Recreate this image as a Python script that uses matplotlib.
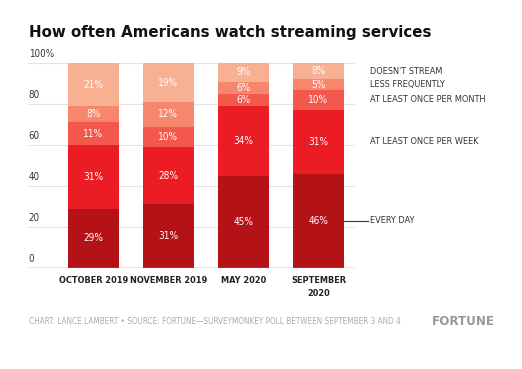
import numpy as np
import matplotlib
matplotlib.use('Agg')
from matplotlib import pyplot as plt

months = ['OCTOBER 2019', 'NOVEMBER 2019', 'MAY 2020', 'SEPTEMBER\n2020']
categories = ['EVERY DAY', 'AT LEAST ONCE PER WEEK', 'AT LEAST ONCE PER MONTH',
              'LESS FREQUENTLY', "DOESN'T STREAM"]
every_day = [29, 31, 45, 46]
per_week = [31, 28, 34, 31]
per_month = [11, 10, 6, 10]
less_often = [8, 12, 6, 5]
no_stream = [21, 19, 9, 8]
colors = ['#b51218', '#ec1c24', '#f4574b', '#f6866c', '#f8b093']

series = [every_day, per_week, per_month, less_often, no_stream]
yticks = [0, 20, 40, 60, 80, 100]

plt.rcParams['font.family'] = 'DejaVu Sans'
plt.rcParams['font.stretch'] = 'condensed'

fig = plt.figure(figsize=(5.22, 3.69), dpi=100)
ax = fig.add_axes([0.0536, 0.274, 0.627, 0.555])

x = np.arange(len(months))
bottom = np.zeros(len(months))
for vals, col in zip(series, colors):
    ax.bar(x, vals, width=0.68, bottom=bottom, color=col, zorder=2)
    for xi, b, v in zip(x, bottom, vals):
        ax.text(xi, b + v / 2, '%d%%' % v, ha='center', va='center',
                color='white', fontsize=7.2, zorder=3)
    bottom += np.array(vals)

ax.set_xlim(-0.87, 3.49)
ax.set_ylim(0, 100)
for s in ax.spines.values():
    s.set_visible(False)
ax.axhline(0, color='#888888', lw=1, zorder=4)
for t in yticks[1:]:
    ax.axhline(t, color='#e3e3e3', lw=0.8, zorder=1)
ax.set_yticks([])
ax.set_xticks(x)
ax.set_xticklabels(months, fontsize=6.6, fontweight='bold', color='#222222',
                   linespacing=1.5)
ax.tick_params(axis='x', length=0, pad=6)

for t in yticks:
    lab = '100%' if t == 100 else str(t)
    ax.text(-0.86, t + 2, lab, ha='left', va='bottom', fontsize=7,
            color='#333333')

# labels beside the last bar
cum = 0
for vals, name in zip(series, categories):
    mid = cum + vals[-1] / 2
    ax.text(3.69, mid, name, ha='left', va='center', fontsize=6.6,
            color='#333333', clip_on=False)
    cum += vals[-1]
ax.plot([3.34, 3.66], [every_day[-1] / 2] * 2, color='#333333', lw=0.8,
        clip_on=False)

fig.text(0.055, 0.912, 'How often Americans watch streaming services',
         fontsize=10.8, fontweight='bold', color='#111111', stretch='normal',
         va='center')
fig.text(0.055, 0.13,
         'CHART: LANCE LAMBERT \u2022 SOURCE: FORTUNE\u2014SURVEYMONKEY POLL BETWEEN SEPTEMBER 3 AND 4',
         fontsize=5.9, color='#aaaaaa', va='center')
fig.text(0.948, 0.13, 'FORTUNE', fontsize=9.5, fontweight='bold', color='#999999',
         ha='right', va='center')

fig.savefig('out.png', dpi=100, facecolor='white')
